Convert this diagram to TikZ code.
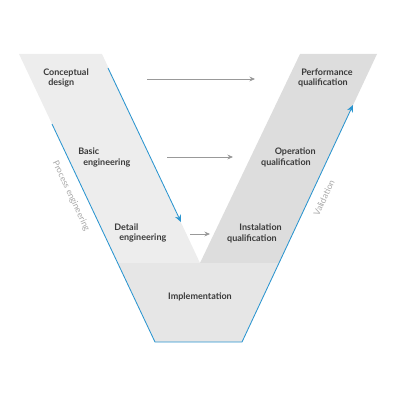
\documentclass[tikz,border=0pt]{standalone}
\usepackage{fontspec}
\setmainfont{Lato}
\usetikzlibrary{arrows.meta}
\definecolor{armlight}{HTML}{EDEDED}
\definecolor{armdark}{HTML}{DDDDDD}
\definecolor{implfill}{HTML}{E6E6E6}
\definecolor{vblue}{HTML}{2A95D0}
\definecolor{txtdark}{HTML}{3A3A3A}
\definecolor{txtlight}{HTML}{A8A8A8}
\begin{document}
\begin{tikzpicture}[x=0.025cm, y=-0.025cm,
    lbl/.style={font=\fontsize{6.4}{7.3}\selectfont\bfseries, text=txtdark, inner sep=0pt},
    side/.style={font=\fontsize{6.2}{7}\selectfont, text=txtlight, inner sep=0pt},
    flow/.style={-{Stealth[length=4pt, width=3.5pt]}, draw=gray!80, line width=0.6pt},
    vflow/.style={draw=vblue, line width=0.6pt}]
    \useasboundingbox (0,0) rectangle (400,400);

    % Arms of the V
    \fill[armlight] (19,54) -- (102,54) -- (200,263) -- (117.7,263) -- cycle;
    \fill[armdark] (300,54) -- (377,54) -- (279,263) -- (200,263) -- cycle;
    \fill[implfill] (117.7,263) -- (279,263) -- (242,342) -- (155,342) -- cycle;

    % Blue edges
    \coordinate (b0) at (52,124);
    \coordinate (b1) at (155,342);
    \coordinate (b2) at (242,342);
    \coordinate (b3) at (353,105);
    \draw[vflow, -{Stealth[length=5pt, width=4.5pt]}] (b0) -- (b1) -- (b2) -- (b3);
    \coordinate (d0) at (108,68);
    \coordinate (d1) at (181,222);
    \draw[vflow, -{Stealth[length=5pt, width=4.5pt]}] (d0) -- (d1);

    % Stage labels
    \node[lbl, anchor=west, align=left] (cd) at (43,78) {Conceptual\\\hspace*{1.25mm}design};
    \node[lbl, anchor=west, align=left] (be) at (78,157.5) {Basic\\\hspace*{1.25mm}engineering};
    \node[lbl, anchor=west, align=left] (de) at (114,233) {Detail\\\hspace*{1.25mm}engineering};
    \node[lbl, anchor=east, align=right] (pq) at (353,78) {Performance\\qualification\hspace*{1.25mm}};
    \node[lbl, anchor=east, align=right] (oq) at (316,157.5) {Operation\\qualification\hspace*{1.25mm}};
    \node[lbl, anchor=east, align=right] (iq) at (282,233.5) {Instalation\\qualification\hspace*{1.25mm}};
    \node[lbl] (im) at (200,297) {Implementation};

    % Grey arrows between the arms
    \coordinate (a0) at (147,79);  \coordinate (a1) at (255,79);
    \coordinate (a2) at (167,157); \coordinate (a3) at (233,157);
    \coordinate (a4) at (190,234); \coordinate (a5) at (210,234);
    \draw[flow] (a0) -- (a1);
    \draw[flow] (a2) -- (a3);
    \draw[flow] (a4) -- (a5);

    % Side labels
    \node[side, rotate=-64.7] (pe) at (71,196) {Process engineering};
    \node[side, rotate=64.9] (va) at (324,198) {Validation};
\end{tikzpicture}
\end{document}
